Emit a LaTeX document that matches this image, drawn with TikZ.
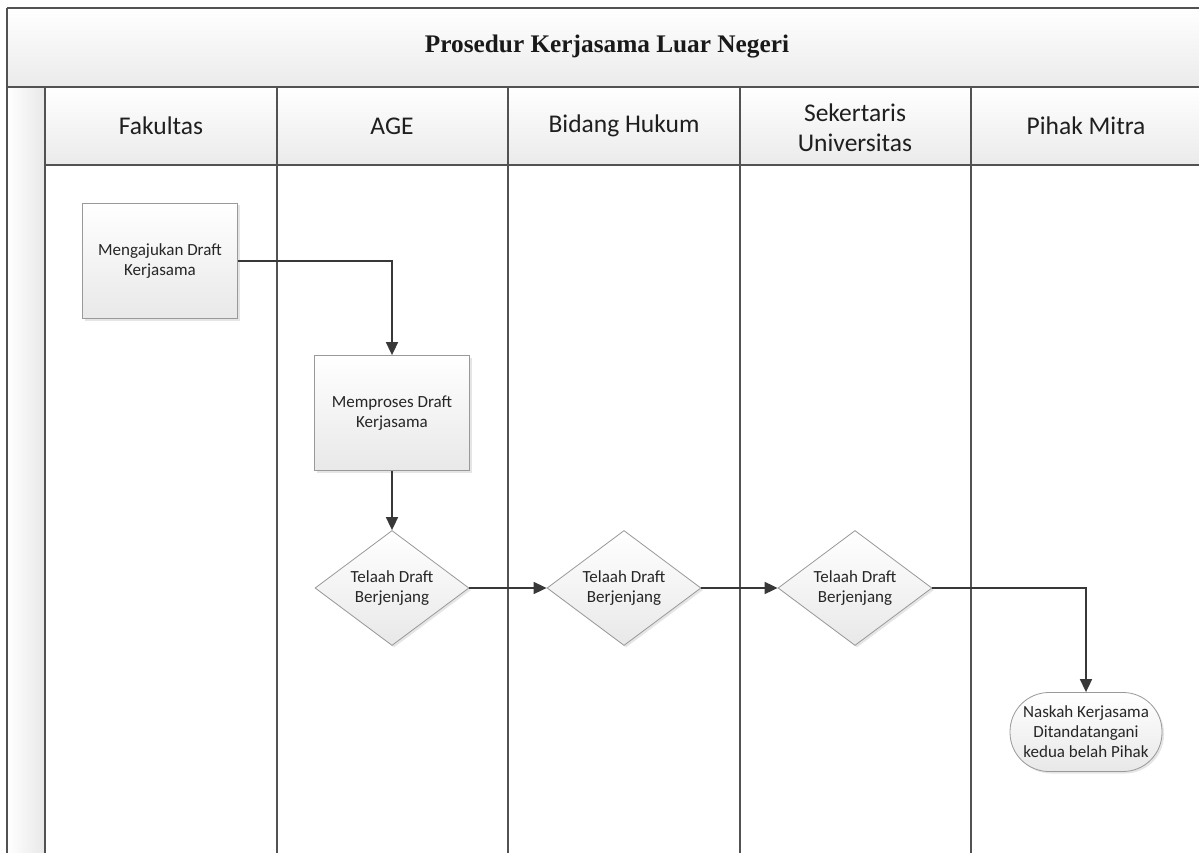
\documentclass[tikz,border=0pt]{standalone}
\usepackage{fontspec}
\setmainfont{Carlito}
\newfontfamily\titlefont{Liberation Serif}
\usetikzlibrary{shapes.geometric,arrows.meta,shadows}
\tikzset{
  lane/.style={draw=black!68, line width=1.2pt},
  hdr/.style={top color=white, bottom color=black!8, draw=none},
  hdrtext/.style={font=\fontsize{25.5}{30}\selectfont, text=black!88, align=center},
  nodetext/.style={font=\fontsize{17}{20}\selectfont, text=black!85, align=center},
  procbox/.style={nodetext, rectangle, draw=black!40, line width=0.8pt, top color=white, bottom color=black!9,
    minimum width=155pt, minimum height=115pt, inner sep=2pt,
    drop shadow={opacity=0.2, shadow xshift=2pt, shadow yshift=-2pt}},
  decbox/.style={nodetext, diamond, aspect=1.34, draw=black!40, line width=0.8pt, top color=white, bottom color=black!9,
    minimum width=154pt, minimum height=115pt, inner sep=0pt,
    drop shadow={opacity=0.2, shadow xshift=2pt, shadow yshift=-2pt}},
  termbox/.style={nodetext, rectangle, rounded corners=39pt, draw=black!40, line width=0.8pt, top color=white, bottom color=black!9,
    minimum width=152pt, minimum height=79pt, inner sep=1pt,
    drop shadow={opacity=0.2, shadow xshift=2pt, shadow yshift=-2pt}},
  conn/.style={draw=black!78, line width=1.7pt, -{Triangle[length=13pt,width=12pt]}},
}
\begin{document}
\begin{tikzpicture}[x=1pt,y=-1pt]
\useasboundingbox (0,0) rectangle (1199,853);
\fill[white] (0,0) rectangle (1199,853);
% title band
\shade[top color=white, bottom color=black!8] (7,8) rectangle (1199,87);
\node[font=\titlefont\bfseries\fontsize{25.3}{30}\selectfont, text=black!90] (title) at (607,47) {Prosedur Kerjasama Luar Negeri};
% left strip
\shade[left color=white, right color=black!9] (7,87) rectangle (45,853);
% header cells
\shade[hdr] (45,87) rectangle (277,165);
\shade[hdr] (277,87) rectangle (508,165);
\shade[hdr] (508,87) rectangle (740,165);
\shade[hdr] (740,87) rectangle (971,165);
\shade[hdr] (971,87) rectangle (1199,165);
\node[hdrtext] (h1) at (161,126) {Fakultas};
\node[hdrtext] (h2) at (392,126) {AGE};
\node[hdrtext] (h3) at (624,126) {Bidang Hukum};
\node[hdrtext] (h4) at (855,128) {Sekertaris\\Universitas};
\node[hdrtext] (h5) at (1086,126) {Pihak Mitra};
% lines
\draw[lane] (7,8) -- (1199,8);
\draw[lane] (7,8) -- (7,853);
\draw[lane] (7,87) -- (1199,87);
\draw[lane] (45,165) -- (1199,165);
\foreach \x in {45,277,508,740,971} \draw[lane] (\x,87) -- (\x,853);
% nodes
\node[procbox] (b1) at (160,261) {Mengajukan Draft\\Kerjasama};
\node[procbox] (b2) at (392,413) {Memproses Draft\\Kerjasama};
\node[decbox] (d1) at (392,588) {Telaah Draft\\Berjenjang};
\node[decbox] (d2) at (624,588) {Telaah Draft\\Berjenjang};
\node[decbox] (d3) at (855,588) {Telaah Draft\\Berjenjang};
\node[termbox] (t) at (1086,732) {Naskah Kerjasama\\Ditandatangani\\kedua belah Pihak};
% connectors
\draw[conn] (b1.east) -| (b2.north);
\draw[conn] (b2.south) -- (d1.north);
\draw[conn] (d1.east) -- (d2.west);
\draw[conn] (d2.east) -- (d3.west);
\draw[conn] (d3.east) -| (t.north);
\end{tikzpicture}
\end{document}
